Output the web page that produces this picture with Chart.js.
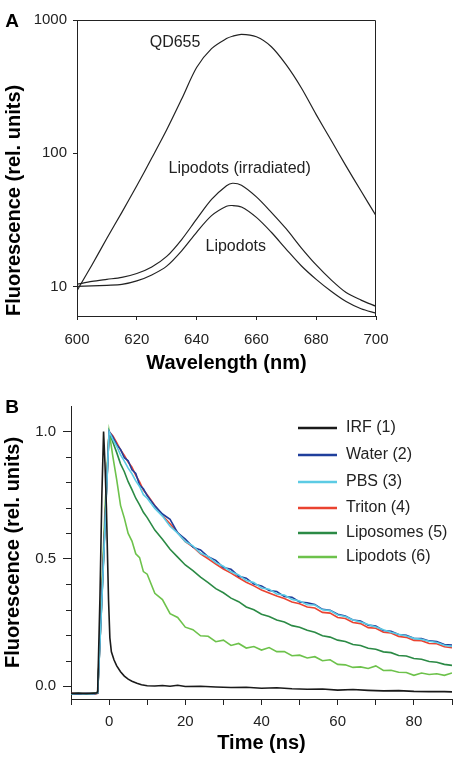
<!DOCTYPE html>
<html>
<head>
<meta charset="utf-8">
<title>Fluorescence spectra and decays</title>
<script src="https://cdn.jsdelivr.net/npm/chart.js@4/dist/chart.umd.min.js"></script>
<style>
  body { margin: 0; background: #fff; }
  #wrap { width: 460px; height: 762px; position: relative; }
  canvas { display: block; }
</style>
</head>
<body>
<div id="wrap">
  <canvas id="chart-a" width="460" height="380"></canvas>
  <canvas id="chart-b" width="460" height="382"></canvas>
</div>
<script>
'use strict';

// ******** DATA - PANEL A (emission spectra, log scale) ********

let wavelength = [600, 605, 610, 615, 620, 625, 630, 635, 640, 645, 650, 652, 655, 660, 665, 670, 675, 680, 685, 690, 695, 700];
let qd655 = [9.3, 14.5, 23, 36, 57, 92, 150, 255, 440, 610, 725, 755, 780, 748, 630, 460, 310, 195, 125, 80, 52, 34];
let lipodotsIrr = [10.4, 10.9, 11.3, 11.7, 12.5, 14.0, 16.8, 22.5, 32, 45, 57, 59.5, 57.5, 47, 36, 27, 19.5, 14.5, 11.2, 9.0, 7.9, 7.1];
let lipodotsSpec = [10.0, 10.1, 10.2, 10.35, 11.0, 12.2, 14.2, 18.5, 25.5, 34, 40, 40.5, 39.5, 33, 25.5, 19, 14.3, 11.3, 9.2, 7.7, 6.8, 6.3];
let xTicksA = [600, 620, 640, 660, 680, 700];
let yTicksA = [10, 100, 1000];

// ******** DATA - PANEL B (fluorescence decays) ********

let irfTime = [-10, -8, -6, -4, -3.2, -3, -2.4, -1.9, -1.45, -1.1, -0.7, -0.4, -0.15, 0.2, 0.6, 1.3, 2, 3, 4, 5, 6, 7.3, 8.5, 10, 12, 14, 16, 18, 20, 24, 28, 32, 36, 40, 44, 48, 52, 56, 60, 64, 68, 72, 76, 80, 84, 88, 90];
let irf = [-0.028, -0.027, -0.029, -0.027, -0.026, -0.02, 0.35, 0.75, 1.0, 0.88, 0.7, 0.5, 0.34, 0.19, 0.135, 0.103, 0.08, 0.057, 0.04, 0.028, 0.02, 0.012, 0.006, 0.002, 0.001, 0.003, 0.0, 0.004, -0.001, 0.0, -0.003, -0.005, -0.004, -0.008, -0.006, -0.01, -0.012, -0.011, -0.015, -0.013, -0.016, -0.018, -0.017, -0.02, -0.021, -0.021, -0.022];

let sampleTime = [-10, -8, -6, -4, -3, -2, -1, 0, 1, 2, 3, 4, 5, 6, 7, 8, 9, 10, 12, 14, 16, 18, 20, 22, 24, 26, 28, 30, 32, 34, 36, 38, 40, 42, 44, 46, 48, 50, 52, 54, 56, 58, 60, 62, 64, 66, 68, 70, 72, 74, 76, 78, 80, 82, 84, 86, 88, 90];

let water = [-0.029, -0.031, -0.028, -0.03, -0.027, 0.31, 0.66,
  1.0, 0.978, 0.948, 0.93, 0.897, 0.885, 0.85, 0.835, 0.79, 0.775, 0.748,
  0.708, 0.676, 0.655, 0.602, 0.578, 0.546, 0.535, 0.508, 0.494, 0.466,
  0.459, 0.432, 0.424, 0.401, 0.394, 0.376, 0.372, 0.352, 0.349, 0.331,
  0.328, 0.321, 0.302, 0.298, 0.283, 0.276, 0.26, 0.256, 0.24, 0.236,
  0.219, 0.216, 0.203, 0.2, 0.188, 0.187, 0.178, 0.176, 0.164, 0.162];

let pbs = [-0.03, -0.028, -0.031, -0.029, -0.026, 0.3, 0.65,
  1.0, 0.968, 0.942, 0.908, 0.884, 0.856, 0.834, 0.806, 0.784, 0.752, 0.738,
  0.698, 0.668, 0.628, 0.601, 0.568, 0.551, 0.522, 0.51, 0.485, 0.471,
  0.449, 0.437, 0.415, 0.407, 0.386, 0.381, 0.362, 0.358, 0.341, 0.335,
  0.32, 0.319, 0.3, 0.297, 0.28, 0.274, 0.26, 0.252, 0.242, 0.233,
  0.222, 0.212, 0.204, 0.197, 0.188, 0.184, 0.177, 0.172, 0.161, 0.156];

let triton = [-0.028, -0.03, -0.029, -0.031, -0.028, 0.32, 0.67,
  1.0, 0.982, 0.956, 0.928, 0.906, 0.88, 0.86, 0.828, 0.802, 0.77, 0.752,
  0.71, 0.67, 0.638, 0.603, 0.568, 0.547, 0.52, 0.5, 0.48, 0.46,
  0.444, 0.426, 0.408, 0.394, 0.378, 0.366, 0.354, 0.344, 0.331, 0.324,
  0.311, 0.307, 0.29, 0.287, 0.27, 0.266, 0.25, 0.246, 0.23, 0.228,
  0.212, 0.209, 0.195, 0.192, 0.18, 0.179, 0.168, 0.167, 0.155, 0.151];

let liposomes = [-0.03, -0.029, -0.03, -0.028, -0.027, 0.31, 0.67,
  1.0, 0.958, 0.917, 0.873, 0.842, 0.803, 0.772, 0.738, 0.712, 0.683, 0.662,
  0.613, 0.577, 0.538, 0.507, 0.476, 0.454, 0.428, 0.407, 0.383, 0.367,
  0.346, 0.332, 0.311, 0.3, 0.283, 0.274, 0.26, 0.252, 0.238, 0.232,
  0.22, 0.212, 0.198, 0.193, 0.181, 0.176, 0.164, 0.16, 0.149, 0.145,
  0.135, 0.132, 0.121, 0.119, 0.109, 0.106, 0.097, 0.094, 0.086, 0.082];

let lipodots = [-0.031, -0.03, -0.029, -0.03, -0.026, 0.36, 0.72,
  1.0, 0.9, 0.81, 0.71, 0.66, 0.6, 0.57, 0.52, 0.505, 0.45, 0.44,
  0.365, 0.34, 0.285, 0.27, 0.232, 0.222, 0.198, 0.196, 0.175, 0.181,
  0.16, 0.168, 0.15, 0.156, 0.142, 0.152, 0.136, 0.136, 0.12, 0.122,
  0.111, 0.116, 0.1, 0.104, 0.086, 0.084, 0.074, 0.076, 0.07, 0.08,
  0.062, 0.063, 0.055, 0.054, 0.043, 0.052, 0.046, 0.049, 0.043, 0.052];

let xTicksB = [-10, 0, 10, 20, 30, 40, 50, 60, 70, 80, 90];
let yTicksB = [0, 0.1, 0.2, 0.3, 0.4, 0.5, 0.6, 0.7, 0.8, 0.9, 1.0];

// ******** SHARED STYLE ********

const FONT = '"Liberation Sans", Arial, Helvetica, sans-serif';
const INK = '#222';
Chart.defaults.font.family = FONT;
Chart.defaults.color = INK;

// zip x values and y values into points
function toPoints(xs, ys) {
  let pts = [];
  for (let i = 0; i < xs.length; i++) {
    pts.push({ x: xs[i], y: ys[i] });
  }
  return pts;
}

// ******** PANEL A ********

let boxPlugin = {
  id: 'boxA',
  afterDraw(chart) {
    let ctx = chart.ctx;
    let a = chart.chartArea;
    let sx = chart.scales.x;
    let sy = chart.scales.y;
    ctx.save();
    ctx.strokeStyle = INK;
    ctx.lineWidth = 1;
    ctx.beginPath();
    ctx.moveTo(a.left, a.top + 0.5);
    ctx.lineTo(a.right - 0.5, a.top + 0.5);
    ctx.lineTo(a.right - 0.5, a.bottom);
    ctx.stroke();

    // curve labels
    ctx.fillStyle = INK;
    ctx.font = '16px ' + FONT;
    ctx.textAlign = 'center';
    ctx.textBaseline = 'middle';
    ctx.fillText('QD655', sx.getPixelForValue(632.8), sy.getPixelForValue(671));
    ctx.fillText('Lipodots (irradiated)', sx.getPixelForValue(654.4), sy.getPixelForValue(77));
    ctx.fillText('Lipodots', sx.getPixelForValue(653.1), sy.getPixelForValue(20));

    // panel letter
    ctx.font = 'bold 19px ' + FONT;
    ctx.fillStyle = '#000';
    ctx.fillText('A', 12, 22);
    ctx.restore();
  }
};

function lineA(values) {
  return {
    data: toPoints(wavelength, values),
    borderColor: INK,
    borderWidth: 1.2,
    pointRadius: 0,
    tension: 0.3,
    fill: false
  };
}

let chartA = new Chart(document.getElementById('chart-a'), {
  type: 'line',
  data: {
    datasets: [lineA(qd655), lineA(lipodotsIrr), lineA(lipodotsSpec)]
  },
  plugins: [boxPlugin],
  options: {
    responsive: false,
    animation: false,
    devicePixelRatio: 1,
    layout: { padding: { top: 20, right: 84, left: 0, bottom: 0 } },
    plugins: { legend: { display: false }, tooltip: { enabled: false } },
    scales: {
      x: {
        type: 'linear',
        min: 600,
        max: 700,
        afterFit: (scale) => { scale.height = 64; },
        afterBuildTicks: (scale) => { scale.ticks = xTicksA.map(v => ({ value: v })); },
        grid: { drawOnChartArea: false, tickLength: 4, color: INK },
        border: { color: INK, width: 1 },
        ticks: { font: { size: 15 }, color: INK, padding: 11, maxRotation: 0 },
        title: { display: true, text: 'Wavelength (nm)', font: { size: 20, weight: 'bold' }, color: '#000', padding: { top: 0, bottom: 5 } }
      },
      y: {
        type: 'logarithmic',
        min: 6,
        max: 1000,
        afterFit: (scale) => { scale.width = 77; },
        afterBuildTicks: (scale) => { scale.ticks = yTicksA.map(v => ({ value: v })); },
        grid: { drawOnChartArea: false, tickLength: 4, color: INK },
        border: { color: INK, width: 1 },
        ticks: { font: { size: 15 }, color: INK, padding: 6, callback: (v) => String(v) },
        title: { display: true, text: 'Fluorescence (rel. units)', align: 'start', font: { size: 20, weight: 'bold' }, color: '#000', padding: { top: 2, bottom: 0 } }
      }
    }
  }
});

// ******** PANEL B ********

let seriesB = [
  { label: 'IRF (1)', time: irfTime, values: irf, color: '#1a1a1a', order: 0 },
  { label: 'Water (2)', time: sampleTime, values: water, color: '#1f3f9c', order: 2 },
  { label: 'PBS (3)', time: sampleTime, values: pbs, color: '#5ccbe4', order: 1 },
  { label: 'Triton (4)', time: sampleTime, values: triton, color: '#ea4330', order: 3 },
  { label: 'Liposomes (5)', time: sampleTime, values: liposomes, color: '#2b8a45', order: 4 },
  { label: 'Lipodots (6)', time: sampleTime, values: lipodots, color: '#6dc24b', order: 5 }
];

function isHalf(v) {
  return Math.abs(v * 2 - Math.round(v * 2)) < 1e-6;
}

// legend drawn at the top right like the original figure, plus short minor y ticks
let legendPlugin = {
  id: 'legendB',
  afterDraw(chart) {
    let ctx = chart.ctx;
    let sy = chart.scales.y;
    let left = chart.chartArea.left;
    let rowsY = [48, 75, 102, 128, 153, 177];
    ctx.save();

    ctx.strokeStyle = INK;
    ctx.lineWidth = 1;
    yTicksB.forEach(v => {
      if (isHalf(v)) return;
      let py = Math.round(sy.getPixelForValue(v)) + 0.5;
      ctx.beginPath();
      ctx.moveTo(left - 5, py);
      ctx.lineTo(left, py);
      ctx.stroke();
    });

    ctx.font = '16px ' + FONT;
    ctx.textAlign = 'left';
    ctx.textBaseline = 'middle';
    chart.data.datasets.forEach((ds, i) => {
      ctx.strokeStyle = ds.borderColor;
      ctx.lineWidth = 2.5;
      ctx.beginPath();
      ctx.moveTo(298, rowsY[i]);
      ctx.lineTo(337, rowsY[i]);
      ctx.stroke();
      ctx.fillStyle = INK;
      ctx.fillText(ds.label, 346, rowsY[i]);
    });

    ctx.font = 'bold 19px ' + FONT;
    ctx.fillStyle = '#000';
    ctx.textAlign = 'center';
    ctx.fillText('B', 12, 28);
    ctx.restore();
  }
};

let chartB = new Chart(document.getElementById('chart-b'), {
  type: 'line',
  data: {
    datasets: seriesB.map(s => ({
      label: s.label,
      data: toPoints(s.time, s.values),
      borderColor: s.color,
      borderWidth: 1.6,
      pointRadius: 0,
      tension: 0,
      order: s.order,
      fill: false
    }))
  },
  plugins: [legendPlugin],
  options: {
    responsive: false,
    animation: false,
    devicePixelRatio: 1,
    layout: { padding: { top: 26, right: 2, left: 0, bottom: 0 } },
    plugins: { legend: { display: false }, tooltip: { enabled: false } },
    scales: {
      x: {
        type: 'linear',
        min: -10,
        max: 90,
        afterFit: (scale) => { scale.height = 63; },
        afterBuildTicks: (scale) => { scale.ticks = xTicksB.map(v => ({ value: v })); },
        grid: { drawOnChartArea: false, tickLength: 6, color: INK },
        border: { color: INK, width: 1 },
        ticks: {
          font: { size: 15 }, color: INK, padding: 8, maxRotation: 0, autoSkip: false,
          callback: (v) => (v >= 0 && v < 90 && v % 20 === 0) ? String(v) : ''
        },
        title: { display: true, text: 'Time (ns)', font: { size: 20, weight: 'bold' }, color: '#000', padding: { top: 0, bottom: 7 } }
      },
      y: {
        type: 'linear',
        min: -0.05,
        max: 1.1,
        afterFit: (scale) => { scale.width = 71; },
        afterBuildTicks: (scale) => { scale.ticks = yTicksB.map(v => ({ value: v })); },
        grid: {
          drawOnChartArea: false, tickLength: 8,
          tickColor: (c) => isHalf(c.tick.value) ? INK : 'rgba(0,0,0,0)'
        },
        border: { color: INK, width: 1 },
        ticks: {
          font: { size: 15 }, color: INK, padding: 7, autoSkip: false,
          callback: (v) => isHalf(v) ? v.toFixed(1) : ''
        },
        title: { display: true, text: 'Fluorescence (rel. units)', font: { size: 20, weight: 'bold' }, color: '#000', padding: { top: 1, bottom: 0 } }
      }
    }
  }
});
</script>
</body>
</html>
